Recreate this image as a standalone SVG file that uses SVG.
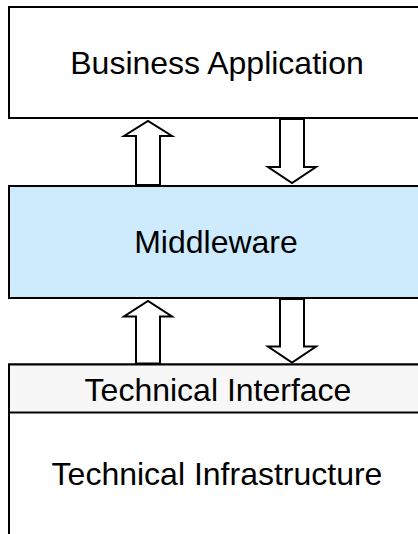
<svg xmlns="http://www.w3.org/2000/svg" width="418" height="534" viewBox="0 0 418 534">
<style>
.box{stroke:#000;stroke-width:2}
.lbl{font-family:"Liberation Sans",Arial,sans-serif;font-size:32px;fill:#000;text-anchor:middle}
.arr{fill:#fff;stroke:#000;stroke-width:2;stroke-linejoin:miter}
</style>
<rect width="418" height="534" fill="#fff"/>
<g id="business-application">
<rect class="box" x="9" y="7" width="416" height="111" fill="#fff"/>
<text class="lbl" x="217" y="74">Business Application</text>
</g>
<g id="middleware">
<rect class="box" x="9" y="186" width="416" height="112" fill="#CDEBFD"/>
<text class="lbl" x="216" y="253">Middleware</text>
</g>
<g id="technical-infrastructure">
<rect class="box" x="9" y="364.5" width="416" height="190" fill="#fff"/>
<rect class="box" x="9" y="364.5" width="416" height="48" fill="#F7F7F7"/>
<text class="lbl" x="218" y="401">Technical Interface</text>
<text class="lbl" x="217" y="485">Technical Infrastructure</text>
</g>
<g id="connectors">
<polygon class="arr" points="136,185 136,136 124,136 148,121 172,136 160,136 160,185"/>
<polygon class="arr" points="280,119 280,167 268,167 292,183 316,167 304,167 304,119"/>
<polygon class="arr" points="136,363.5 136,316.5 124,316.5 148,301 172,316.5 160,316.5 160,363.5"/>
<polygon class="arr" points="280,299 280,346.5 268,346.5 292,362.5 316,346.5 304,346.5 304,299"/>
</g>
</svg>
